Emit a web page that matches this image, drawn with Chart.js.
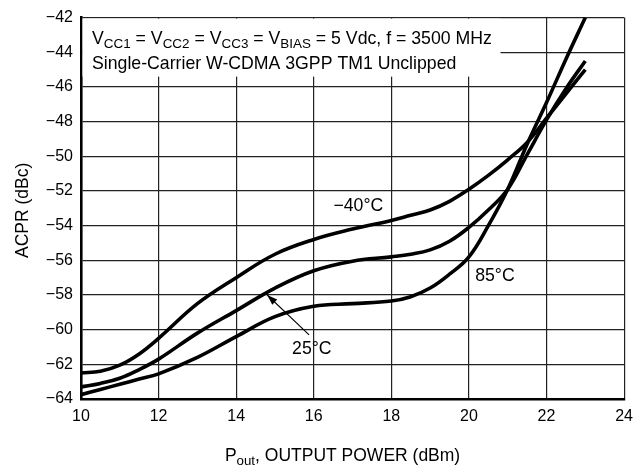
<!DOCTYPE html>
<html lang="en">
<head>
<meta charset="UTF-8">
<title>ACPR versus Output Power</title>
<script src="https://cdn.jsdelivr.net/npm/chart.js"></script>
<style>
  html, body { margin: 0; padding: 0; background: #fff; }
  .chart-box { position: relative; width: 641px; height: 468px; }
</style>
</head>
<body>
<div class="chart-box"><canvas id="acprChart"></canvas></div>
<script>
// Output power (dBm) sample points shared by all three curves
const pout = [10, 10.5, 11, 11.5, 12, 13, 14, 15, 16, 17, 18, 18.5, 19, 19.5, 20, 20.5, 21, 21.5, 22, 22.5, 23];

// ACPR (dBc) per temperature
const acprMinus40 = [-62.5, -62.4, -62.05, -61.4, -60.5, -58.5, -57.0, -55.65, -54.8, -54.2, -53.7, -53.4, -53.1, -52.6, -51.9, -51.1, -50.2, -49.2, -47.8, -46.4, -45.0];
const acpr25 = [-63.3, -63.1, -62.8, -62.3, -61.7, -60.2, -58.9, -57.6, -56.6, -56.05, -55.8, -55.65, -55.4, -54.9, -54.1, -53.1, -51.9, -49.9, -47.9, -46.1, -44.5];
const acpr85 = [-63.75, -63.45, -63.15, -62.85, -62.55, -61.6, -60.4, -59.25, -58.65, -58.5, -58.35, -58.1, -57.6, -56.8, -55.8, -54.0, -51.9, -49.3, -46.9, -44.4, -42.0];

// axis ranges
const xTicks = [10, 12, 14, 16, 18, 20, 22, 24];
const yTicks = [-64, -62, -60, -58, -56, -54, -52, -50, -48, -46, -44, -42];

const FONT = '"Liberation Sans", Arial, Helvetica, sans-serif';
const MINUS = '\u2212';

function toPoints(ys) {
    return pout.map((x, i) => ({ x: x, y: ys[i] }));
}

function curve(label, ys) {
    return {
        label: label,
        data: toPoints(ys),
        borderColor: '#000',
        borderWidth: 3.6,
        pointRadius: 0,
        fill: false,
        tension: 0.4
    };
}

// draws text runs with subscripts, left to right
function drawRuns(ctx, runs, x, y, size) {
    runs.forEach(r => {
        const s = r.sub ? size * 0.76 : size;
        ctx.font = s + 'px ' + FONT;
        ctx.fillText(r.t, x, r.sub ? y + 4 : y);
        x += ctx.measureText(r.t).width;
    });
    return x;
}

// condition box, axis titles, temperature labels and arrow
const decorations = {
    id: 'decorations',
    beforeDatasetsDraw(chart) {
        const ctx = chart.ctx;
        const a = chart.chartArea;
        ctx.save();
        ctx.fillStyle = '#fff';
        ctx.fillRect(a.left + 1.5, a.top + 1, 418, 58);
        ctx.fillStyle = '#000';
        ctx.textBaseline = 'alphabetic';
        ctx.textAlign = 'left';
        drawRuns(ctx, [
            { t: 'V' }, { t: 'CC1', sub: true }, { t: ' = V' }, { t: 'CC2', sub: true },
            { t: ' = V' }, { t: 'CC3', sub: true }, { t: ' = V' }, { t: 'BIAS', sub: true },
            { t: ' = 5 Vdc, f = 3500 MHz' }
        ], a.left + 11, a.top + 26, 17.7);
        drawRuns(ctx, [{ t: 'Single-Carrier W-CDMA 3GPP TM1 Unclipped' }], a.left + 11, a.top + 51, 17.7);
        ctx.restore();
    },
    afterDraw(chart) {
        const ctx = chart.ctx;
        const xs = chart.scales.x;
        const ys = chart.scales.y;
        const a = chart.chartArea;
        ctx.save();
        ctx.fillStyle = '#000';

        // axis titles
        ctx.font = '17.5px ' + FONT;
        ctx.textBaseline = 'alphabetic';
        ctx.save();
        ctx.translate(28, (a.top + a.bottom) / 2 + 2);
        ctx.rotate(-Math.PI / 2);
        ctx.textAlign = 'center';
        ctx.fillText('ACPR (dBc)', 0, 0);
        ctx.restore();

        const xRuns = [{ t: 'P' }, { t: 'out', sub: true }, { t: ', OUTPUT POWER (dBm)' }];
        let w = 0;
        xRuns.forEach(r => {
            ctx.font = (r.sub ? 17.5 * 0.76 : 17.5) + 'px ' + FONT;
            w += ctx.measureText(r.t).width;
        });
        drawRuns(ctx, xRuns, (a.left + a.right) / 2 - w / 2 - 10, 461, 17.5);

        // temperature labels
        ctx.font = '17.7px ' + FONT;
        ctx.textAlign = 'center';
        ctx.textBaseline = 'middle';
        ctx.fillText(MINUS + '40\u00B0C', xs.getPixelForValue(17.15), ys.getPixelForValue(-52.9));
        ctx.fillText('85\u00B0C', xs.getPixelForValue(20.67), ys.getPixelForValue(-56.9));
        ctx.fillText('25\u00B0C', xs.getPixelForValue(15.95), ys.getPixelForValue(-61.1));

        // arrow from the 25°C label to its curve
        const x0 = xs.getPixelForValue(15.88), y0 = ys.getPixelForValue(-60.3);
        const x1 = xs.getPixelForValue(14.8), y1 = ys.getPixelForValue(-58.0);
        ctx.strokeStyle = '#000';
        ctx.lineWidth = 1.1;
        ctx.beginPath();
        ctx.moveTo(x0, y0);
        ctx.lineTo(x1, y1);
        ctx.stroke();
        const ang = Math.atan2(y1 - y0, x1 - x0);
        const len = 11, half = 0.33;
        ctx.beginPath();
        ctx.moveTo(x1, y1);
        ctx.lineTo(x1 - len * Math.cos(ang - half), y1 - len * Math.sin(ang - half));
        ctx.lineTo(x1 - len * Math.cos(ang + half), y1 - len * Math.sin(ang + half));
        ctx.closePath();
        ctx.fill();
        ctx.restore();
    }
};

new Chart(document.getElementById('acprChart'), {
    type: 'line',
    data: {
        datasets: [
            curve('-40°C', acprMinus40),
            curve('25°C', acpr25),
            curve('85°C', acpr85)
        ]
    },
    options: {
        responsive: true,
        maintainAspectRatio: false,
        animation: false,
        layout: { padding: { top: 16, right: 13, left: 0, bottom: 0 } },
        plugins: {
            legend: { display: false },
            tooltip: { enabled: false }
        },
        scales: {
            x: {
                type: 'linear',
                min: xTicks[0],
                max: xTicks[xTicks.length - 1],
                afterBuildTicks: s => { s.ticks = xTicks.map(v => ({ value: v })); },
                afterFit: s => { s.height = 69; },
                grid: { color: '#222', lineWidth: 1.2, drawTicks: false },
                border: { color: '#000', width: 2.6 },
                ticks: {
                    padding: 8,
                    color: '#000',
                    font: { family: FONT, size: 16 }
                }
            },
            y: {
                type: 'linear',
                min: yTicks[0],
                max: yTicks[yTicks.length - 1],
                afterBuildTicks: s => { s.ticks = yTicks.map(v => ({ value: v })); },
                afterFit: s => { s.width = 81; },
                grid: { color: '#222', lineWidth: 1.2, drawTicks: false },
                border: { color: '#000', width: 2.6 },
                ticks: {
                    padding: 8,
                    color: '#000',
                    font: { family: FONT, size: 16 },
                    callback: v => (v < 0 ? MINUS + Math.abs(v) : String(v))
                }
            }
        }
    },
    plugins: [decorations]
});
</script>
</body>
</html>
